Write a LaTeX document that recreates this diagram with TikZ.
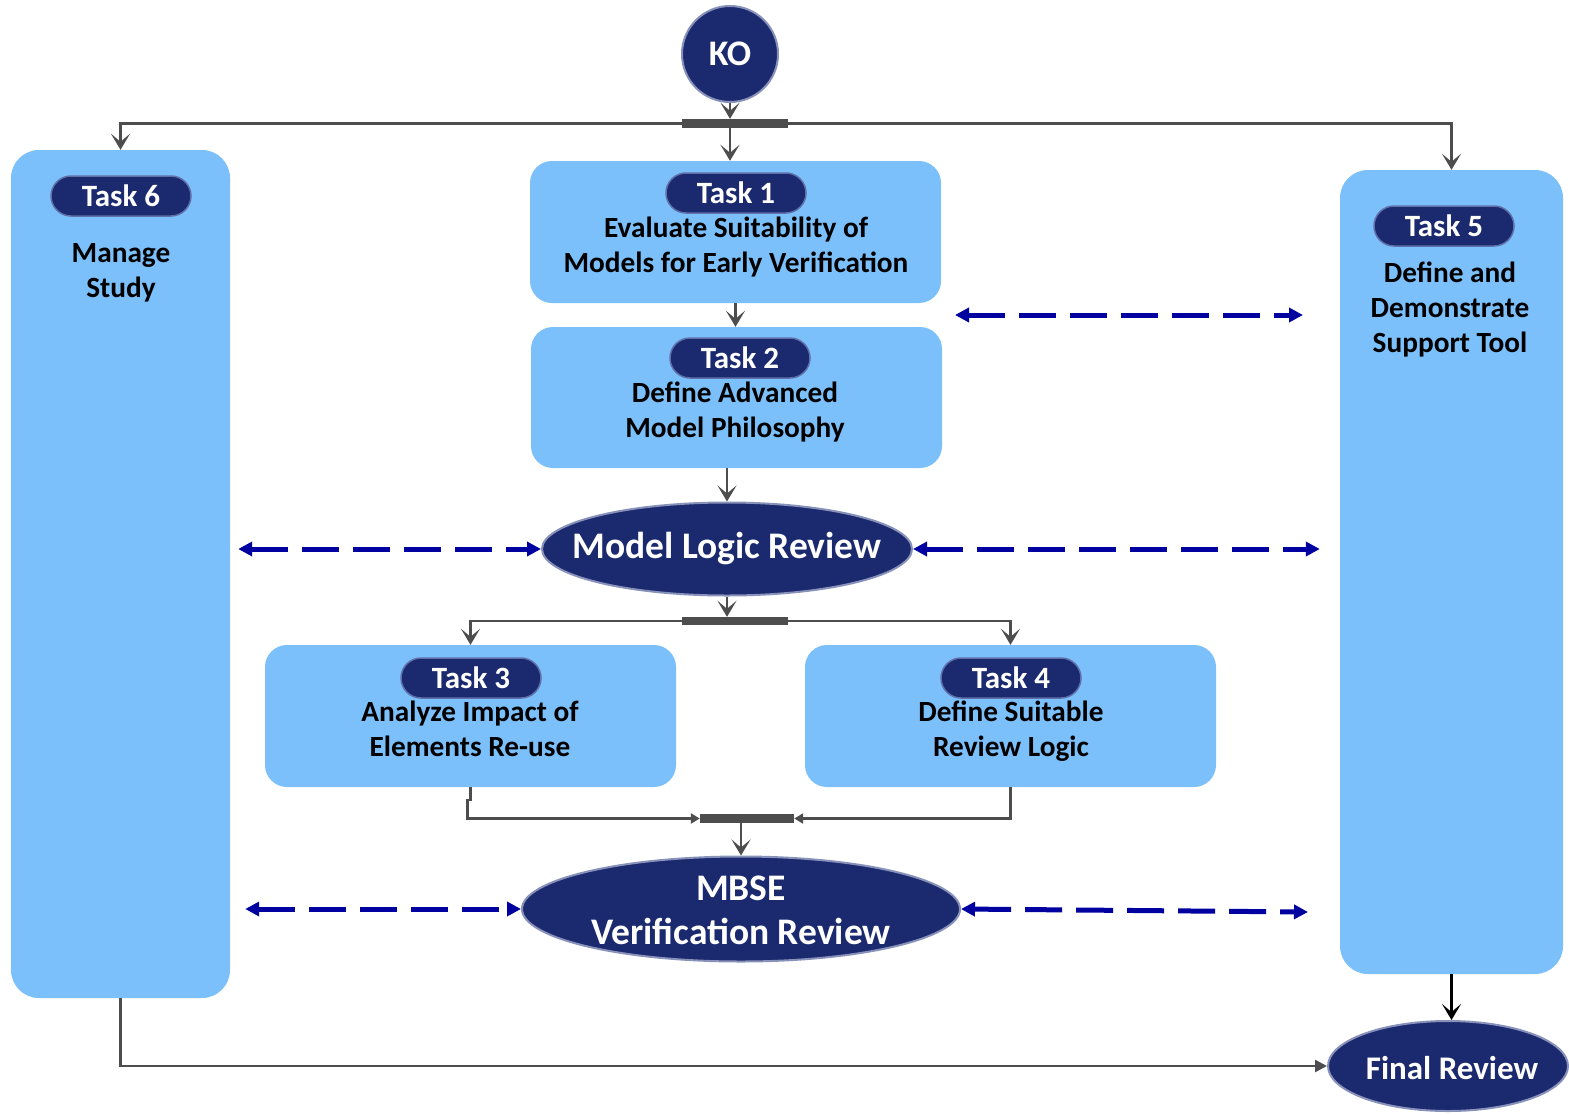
\documentclass[tikz,border=0pt]{standalone}
\usepackage{fontspec}
\setmainfont{Carlito}
\usetikzlibrary{shapes.geometric,arrows.meta}
\definecolor{boxblue}{RGB}{123,191,251}
\definecolor{navy}{RGB}{27,42,110}
\definecolor{rimblue}{RGB}{95,112,170}
\definecolor{rimgray}{RGB}{135,145,185}
\definecolor{linegray}{RGB}{77,77,77}
\definecolor{dashblue}{RGB}{0,0,160}

\begin{document}
\begin{tikzpicture}[x=1pt,y=-1pt,
  taskbox/.style={fill=boxblue, draw=none, rounded corners=22pt, inner sep=0pt},
  badge/.style={fill=navy, draw=rimblue, line width=1.5pt, rounded corners=20pt,
    minimum width=140pt, minimum height=40pt, inner sep=0pt, text=white,
    font=\bfseries\fontsize{31pt}{35pt}\selectfont},
  body/.style={align=center, inner sep=0pt, anchor=base,
    font=\bfseries\fontsize{29.3pt}{35pt}\selectfont},
  milestone/.style={ellipse, fill=navy, draw=rimgray, line width=2pt, inner sep=0pt},
  mtext/.style={text=white, align=center, inner sep=0pt,
    font=\bfseries\fontsize{37.5pt}{44pt}\selectfont},
  forkbar/.style={fill=linegray, draw=none, inner sep=0pt},
  flow/.style={draw=linegray, line width=2.5pt, -{Stealth[length=16pt,width=19pt,inset=8pt]}},
  thinflow/.style={draw=linegray, line width=2.5pt, -{Triangle[length=12pt,width=12pt]}},
  joinflow/.style={draw=linegray, line width=2.5pt, -{Triangle[length=9pt,width=10pt]}},
  link/.style={draw=dashblue, line width=5pt, dash pattern=on 37pt off 14pt,
    {Triangle[length=14pt,width=14pt]}-{Triangle[length=14pt,width=14pt]}}]

\useasboundingbox (0,0) rectangle (1569,1114);
\fill[white] (0,0) rectangle (1569,1114);

% --- task boxes ---
\node[taskbox, minimum width=219pt, minimum height=848pt, rounded corners=28pt] (t6) at (120.5,574) {};
\node[taskbox, minimum width=223pt, minimum height=804pt, rounded corners=28pt] (t5) at (1451.5,572) {};
\node[taskbox, minimum width=411pt, minimum height=142pt] (t1) at (735.5,232) {};
\node[taskbox, minimum width=411pt, minimum height=141pt] (t2) at (736.5,397.5) {};
\node[taskbox, minimum width=411pt, minimum height=142pt] (t3) at (470.5,716) {};
\node[taskbox, minimum width=411pt, minimum height=142pt] (t4) at (1010.5,716) {};

% --- badges ---
\node[badge] (b6) at (121,196) {Task 6};
\node[badge] (b1) at (736,193) {Task 1};
\node[badge] (b2) at (740,358) {Task 2};
\node[badge] (b3) at (471,678) {Task 3};
\node[badge] (b4) at (1011,678) {Task 4};
\node[badge] (b5) at (1444,226) {Task 5};

% --- task descriptions (anchored on the baseline of the last line) ---
\node[body] (l6) at (121,297) {Manage\\Study};
\node[body] (l1) at (736,272) {Evaluate Suitability of\\Models for Early Verification};
\node[body] (l2) at (735,437) {Define Advanced\\Model Philosophy};
\node[body] (l3) at (470,756) {Analyze Impact of\\Elements Re-use};
\node[body] (l4) at (1011,756) {Define Suitable\\Review Logic};
\node[body] (l5) at (1450,352) {Define and\\Demonstrate\\Support Tool};

% --- milestones ---
\node[circle, fill=navy, draw=rimgray, line width=2pt, minimum size=96pt, inner sep=0pt,
  text=white, font=\bfseries\fontsize{36pt}{40pt}\selectfont] (ko) at (730,54) {KO};
\node[milestone, minimum width=370pt, minimum height=93pt] (mlr) at (727,549) {};
\node[mtext] (mlrtext) at (727,549) {Model Logic Review};
\node[milestone, minimum width=438pt, minimum height=105pt] (mbse) at (741,909) {};
\node[mtext, anchor=base] (mbsetext) at (741,944) {MBSE\\Verification Review};
\node[milestone, minimum width=240pt, minimum height=90pt] (fr) at (1448,1066) {};
\node[mtext, font=\bfseries\fontsize{33pt}{40pt}\selectfont] (frtext) at (1452,1068) {Final Review};

% --- fork / join bars ---
\node[forkbar, minimum width=106pt, minimum height=9pt] (bar1) at (735,123.5) {};
\node[forkbar, minimum width=106pt, minimum height=8pt] (bar2) at (735,621) {};
\node[forkbar, minimum width=94pt, minimum height=9pt] (bar3) at (747,818.5) {};

% --- control flow ---
\draw[flow] (ko.south) -- (ko.south |- bar1.north);
\draw[flow] (ko.south |- bar1.south) -- (ko.south |- t1.north);
\draw[flow] (bar1.west) -| (t6.north);
\draw[flow] (bar1.east) -| (t5.north);
\draw[flow] (t1.south) -- (t1.south |- t2.north);
\draw[flow] (mlr.north |- t2.south) -- (mlr.north);
\draw[flow] (mlr.south) -- (mlr.south |- bar2.north);
\draw[flow] (bar2.west) -| (t3.north);
\draw[flow] (bar2.east) -| (t4.north);
\draw[joinflow] (t3.south) -- ++(0,13) -- ++(-3,0) |- (bar3.west);
\draw[joinflow] (t4.south) |- (bar3.east);
\draw[flow] (mbse.north |- bar3.south) -- (mbse.north);
\draw[flow, draw=black] (t5.south) -- (t5.south |- fr.north);
\draw[thinflow] (t6.south) |- (fr.west);

% --- information exchanges ---
\coordinate (d1l) at (955,315);
\coordinate (d1r) at (1303,315);
\coordinate (d5r) at (1308,912);
\draw[link] (d1l) -- (d1r);
\draw[link] ([xshift=8pt]t6.east |- mlr.west) -- (mlr.west);
\draw[link] (mlr.east) -- ([xshift=-20pt]t5.west |- mlr.east);
\draw[link] ([xshift=15pt]t6.east |- mbse.west) -- (mbse.west);
\draw[link] (mbse.east) -- (d5r);

\end{tikzpicture}
\end{document}
